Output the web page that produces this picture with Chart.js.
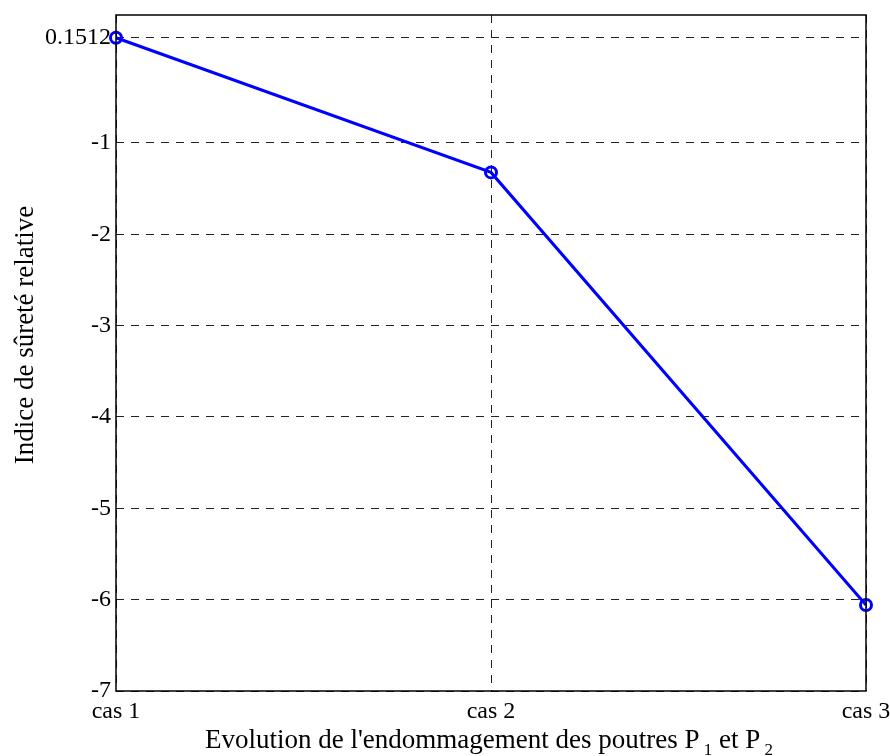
<!DOCTYPE html>
<html>
<head>
<meta charset="utf-8">
<script src="https://cdn.jsdelivr.net/npm/chart.js@4.4.1/dist/chart.umd.min.js"></script>
<style>
  html, body { margin: 0; padding: 0; background: #fff; }
  #wrap { position: relative; width: 890px; height: 756px; }
</style>
</head>
<body>
<div id="wrap"><canvas id="c" width="890" height="756"></canvas></div>
<script>
const categories = ['cas 1', 'cas 2', 'cas 3'];
const indexValues = [0.1512, -1.323, -6.058];
const yTickValues = [0.1512, -1, -2, -3, -4, -5, -6, -7];
const yMin = -7;
const yMax = 0.4;
const yTitle = 'Indice de sûreté relative';
const xTitleParts = [
  { t: "Evolution de l'endommagement des poutres P", sub: false },
  { t: ' 1', sub: true },
  { t: ' et P', sub: false },
  { t: ' 2', sub: true }
];

const FONT = '"Liberation Serif", "Times New Roman", serif';

const boxPlugin = {
  id: 'box',
  afterDraw(chart) {
    const { ctx, chartArea: a } = chart;
    ctx.save();
    ctx.strokeStyle = '#000';
    ctx.lineWidth = 1.5;
    ctx.setLineDash([]);
    ctx.strokeRect(a.left, a.top, a.right - a.left, a.bottom - a.top);
    ctx.restore();
  }
};

const titlesPlugin = {
  id: 'titles',
  afterDraw(chart) {
    const { ctx, chartArea: a } = chart;
    ctx.save();
    ctx.fillStyle = '#000';
    ctx.textBaseline = 'alphabetic';
    const mainFont = '27px ' + FONT;
    const subFont = '17px ' + FONT;
    let total = 0;
    xTitleParts.forEach(p => { ctx.font = p.sub ? subFont : mainFont; total += ctx.measureText(p.t).width; });
    let x = (a.left + a.right) / 2 - total / 2 - 2;
    const baseY = 748;
    xTitleParts.forEach(p => {
      ctx.font = p.sub ? subFont : mainFont;
      ctx.fillText(p.t, x, p.sub ? baseY + 7 : baseY);
      x += ctx.measureText(p.t).width;
    });
    // y title (rotated)
    ctx.font = '27px ' + FONT;
    ctx.translate(33, 335);
    ctx.rotate(-Math.PI / 2);
    ctx.textAlign = 'center';
    ctx.fillText(yTitle, 0, 0);
    ctx.restore();
  }
};

new Chart(document.getElementById('c'), {
  type: 'line',
  data: {
    labels: categories,
    datasets: [{
      data: indexValues,
      borderColor: '#0000ff',
      borderWidth: 3,
      pointRadius: 5.5,
      pointBorderWidth: 3,
      pointBorderColor: '#0000ff',
      pointBackgroundColor: 'rgba(0,0,0,0)',
      tension: 0,
      clip: false
    }]
  },
  options: {
    responsive: false,
    animation: false,
    layout: { padding: { top: 15, right: 24, left: 0, bottom: 0 } },
    plugins: { legend: { display: false }, tooltip: { enabled: false } },
    scales: {
      x: {
        type: 'category',
        offset: false,
        grid: { color: '#222', lineWidth: 1, drawTicks: false },
        border: { display: false, dash: [8, 7] },
        ticks: { color: '#000', font: { family: FONT, size: 24 }, padding: 6, maxRotation: 0, autoSkip: false },
        afterFit(scale) { scale.height = 65; scale.paddingLeft = 0; scale.paddingRight = 0; }
      },
      y: {
        min: yMin,
        max: yMax,
        afterBuildTicks(scale) { scale.ticks = yTickValues.map(v => ({ value: v })); },
        grid: { color: '#222', lineWidth: 1, drawTicks: false },
        border: { display: false, dash: [8, 7] },
        ticks: {
          color: '#000',
          font: { family: FONT, size: 24 },
          padding: 5,
          callback: (v) => String(v)
        },
        afterFit(scale) { scale.width = 116; scale.paddingTop = 0; scale.paddingBottom = 0; }
      }
    }
  },
  plugins: [boxPlugin, titlesPlugin]
});
</script>
</body>
</html>
